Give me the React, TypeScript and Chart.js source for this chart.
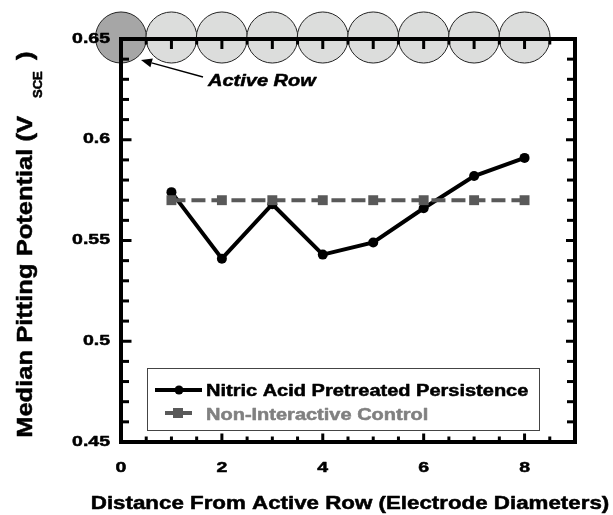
import React, { useEffect, useRef } from "react";
import { Chart, registerables } from "chart.js";

Chart.register(...registerables);

// ---- data ----
const distances = [1, 2, 3, 4, 5, 6, 7, 8];
const nitricValues = [0.574, 0.541, 0.568, 0.543, 0.549, 0.566, 0.582, 0.591];
const controlValues = [0.57, 0.57, 0.57, 0.57, 0.57, 0.57, 0.57, 0.57];
const electrodePositions = [0, 1, 2, 3, 4, 5, 6, 7, 8];
const xTickLabels = [0, 2, 4, 6, 8];
const yTickLabels = [0.45, 0.5, 0.55, 0.6, 0.65];
const seriesNames = ["Nitric Acid Pretreated Persistence", "Non-Interactive Control"];
const xTitle = "Distance From Active Row (Electrode Diameters)";
const yTitleMain = "Median Pitting Potential (V";
const yTitleSub = "SCE";
const yTitleEnd = ")";
const annotationText = "Active Row";

const FONT = "'Liberation Sans', Arial, Helvetica, sans-serif";
const GREY = "#595959";

type TOpts = {
  size: number;
  italic?: boolean;
  align?: CanvasTextAlign;
  baseline?: CanvasTextBaseline;
  sx?: number;
  rot?: boolean;
  color?: string;
};

function txt(ctx: CanvasRenderingContext2D, s: string, x: number, y: number, o: TOpts) {
  ctx.save();
  ctx.translate(x, y);
  if (o.rot) ctx.rotate(-Math.PI / 2);
  ctx.scale(o.sx ?? 1.25, 1);
  ctx.font = `${o.italic ? "italic " : ""}bold ${o.size}px ${FONT}`;
  ctx.textAlign = o.align ?? "left";
  ctx.textBaseline = o.baseline ?? "alphabetic";
  ctx.fillStyle = o.color ?? "#000";
  ctx.strokeStyle = o.color ?? "#000";
  ctx.lineWidth = 0.5;
  ctx.lineJoin = "round";
  ctx.fillText(s, 0, 0);
  ctx.strokeText(s, 0, 0);
  ctx.restore();
}

const decor = {
  id: "decor",
  beforeDraw(chart: any) {
    const ctx: CanvasRenderingContext2D = chart.ctx;
    const xs = chart.scales.x;
    const ys = chart.scales.y;
    const cy = ys.getPixelForValue(0.65) - 1.5;
    const r = (xs.getPixelForValue(1) - xs.getPixelForValue(0)) / 2 + 0.3;
    ctx.save();
    electrodePositions.forEach((p, i) => {
      ctx.beginPath();
      ctx.arc(xs.getPixelForValue(p), cy, r, 0, Math.PI * 2);
      ctx.fillStyle = i === 0 ? "#a6a6a6" : "#dcdddc";
      ctx.fill();
      ctx.lineWidth = 1;
      ctx.strokeStyle = "#222";
      ctx.stroke();
    });
    ctx.restore();
  },
  afterDraw(chart: any) {
    const ctx: CanvasRenderingContext2D = chart.ctx;
    const xs = chart.scales.x;
    const ys = chart.scales.y;
    const { left, right, top, bottom } = chart.chartArea;
    ctx.save();
    // frame
    ctx.strokeStyle = "#000";
    ctx.lineWidth = 4;
    ctx.lineJoin = "miter";
    ctx.strokeRect(left, top, right - left, bottom - top);
    // ticks
    ctx.lineWidth = 3;
    const line = (x1: number, y1: number, x2: number, y2: number) => {
      ctx.beginPath();
      ctx.moveTo(x1, y1);
      ctx.lineTo(x2, y2);
      ctx.stroke();
    };
    for (let k = 0; k <= 18; k++) {
      const v = k * 0.5;
      const px = xs.getPixelForValue(v);
      const majorB = k % 4 === 0;
      line(px, bottom, px, bottom - (majorB ? 8.5 : 5.5));
      const majorT = k % 2 === 0;
      line(px, top, px, top + (majorT ? 10 : 5.5));
    }
    for (let k = 0; k <= 20; k++) {
      const v = 0.45 + k * 0.01;
      const py = ys.getPixelForValue(v);
      const major = k % 5 === 0;
      line(left, py, left + (major ? 10.5 : 8), py);
      line(right, py, right - (major ? 9 : 8), py);
    }
    // tick labels
    yTickLabels.forEach((v) => {
      txt(ctx, String(v), 110, ys.getPixelForValue(v) + 3.5, { size: 15, align: "right", sx: 1.3 });
    });
    xTickLabels.forEach((v) => {
      txt(ctx, String(v), xs.getPixelForValue(v), 472, { size: 15, align: "center", sx: 1.3 });
    });
    // axis titles
    txt(ctx, xTitle, 350, 509, { size: 18, align: "center", sx: 1.24 });
    txt(ctx, yTitleMain, 32, 116, { size: 22, align: "right", sx: 1.16, rot: true });
    txt(ctx, yTitleSub, 42, 98, { size: 13, align: "left", sx: 1.0, rot: true });
    txt(ctx, yTitleEnd, 32, 60, { size: 22, align: "left", sx: 1.16, rot: true });

    // annotation arrow
    const x0 = xs.getPixelForValue(0);
    const y0 = ys.getPixelForValue(0.65);
    const tipX = x0 + 20, tipY = y0 + 21;
    const tailX = x0 + 82, tailY = y0 + 38;
    const dx = tipX - tailX, dy = tipY - tailY;
    const len = Math.hypot(dx, dy);
    const ux = dx / len, uy = dy / len;
    const hl = 11, hw = 4.5;
    const bx = tipX - ux * hl, by = tipY - uy * hl;
    ctx.strokeStyle = "#000";
    ctx.lineWidth = 1.3;
    line(tailX, tailY, bx, by);
    ctx.beginPath();
    ctx.moveTo(tipX, tipY);
    ctx.lineTo(bx - uy * hw, by + ux * hw);
    ctx.lineTo(bx + uy * hw, by - ux * hw);
    ctx.closePath();
    ctx.fillStyle = "#000";
    ctx.fill();
    txt(ctx, annotationText, x0 + 87, y0 + 47, { size: 16, italic: true, sx: 1.25 });

    // legend
    const lx = 147.5, ly = 368.5, lw = 392, lh = 62;
    ctx.fillStyle = "#fff";
    ctx.fillRect(lx, ly, lw, lh);
    ctx.strokeStyle = "#444";
    ctx.lineWidth = 1;
    ctx.strokeRect(lx, ly, lw, lh);
    // item 1
    ctx.strokeStyle = "#000";
    ctx.lineWidth = 4;
    line(155, 390, 202, 390);
    ctx.beginPath();
    ctx.arc(179, 390, 4.5, 0, Math.PI * 2);
    ctx.fillStyle = "#000";
    ctx.fill();
    txt(ctx, seriesNames[0], 206, 396, { size: 16, sx: 1.25 });
    // item 2
    ctx.strokeStyle = GREY;
    ctx.lineWidth = 4;
    line(165, 413, 173, 413);
    line(183, 413, 192, 413);
    ctx.fillStyle = GREY;
    ctx.fillRect(173, 408, 10, 10);
    txt(ctx, seriesNames[1], 206, 419.5, { size: 16, sx: 1.25, color: "#808080" });
    ctx.restore();
  },
};

export default function App() {
  const ref = useRef<HTMLCanvasElement>(null);
  useEffect(() => {
    document.body.style.margin = "0";
    const canvas = ref.current!;
    const chart = new Chart(canvas, {
      type: "line",
      data: {
        datasets: [
          {
            label: seriesNames[0],
            data: distances.map((d, i) => ({ x: d, y: nitricValues[i] })),
            borderColor: "#000",
            backgroundColor: "#000",
            borderWidth: 4,
            pointRadius: 5,
            pointStyle: "circle",
            pointBorderWidth: 0,
            order: 1,
          },
          {
            label: seriesNames[1],
            data: distances.map((d, i) => ({ x: d, y: controlValues[i] })),
            borderColor: GREY,
            backgroundColor: GREY,
            borderWidth: 4,
            borderDash: [14, 6],
            pointRadius: 7,
            pointStyle: "rect",
            pointBorderWidth: 0,
            order: 0,
          },
        ],
      },
      options: {
        responsive: false,
        animation: false,
        devicePixelRatio: 1,
        layout: { padding: { left: 121, top: 39, right: 38, bottom: 73 } },
        scales: {
          x: { type: "linear", min: 0, max: 9, display: false },
          y: { type: "linear", min: 0.45, max: 0.65, display: false },
        },
        plugins: { legend: { display: false }, tooltip: { enabled: false } },
      },
      plugins: [decor],
    });
    return () => chart.destroy();
  }, []);
  return <canvas ref={ref} width={613} height={515} style={{ display: "block" }} />;
}
